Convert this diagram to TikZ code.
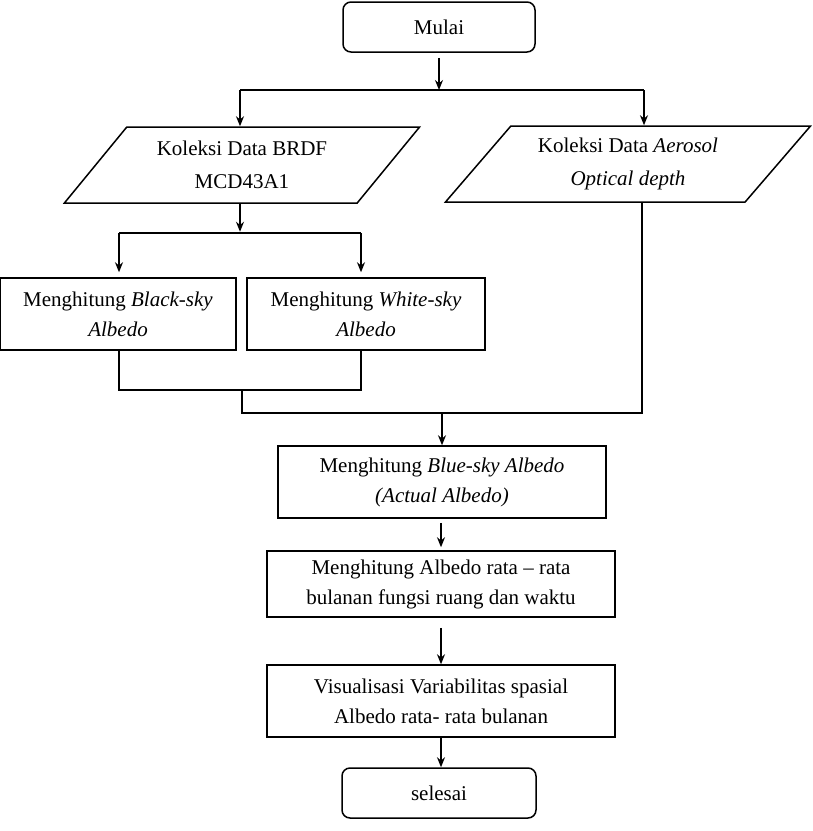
\documentclass[tikz,border=0pt]{standalone}
\usepackage{fontspec}
\setmainfont{Liberation Serif}
\usetikzlibrary{arrows.meta,shapes.geometric}

\begin{document}
\begin{tikzpicture}[x=1pt,y=-1pt,line width=1.5pt,
  font=\fontsize{21}{30}\selectfont,
  terminal/.style={draw,rounded corners=8pt,align=center,inner sep=0pt},
  proses/.style={draw,align=center,inner sep=0pt},
  datain/.style={draw,trapezium,trapezium left angle=46,trapezium right angle=134,
    trapezium stretches=true,align=center,inner sep=0pt,font=\fontsize{21}{33}\selectfont},
  arr/.style={-{Stealth[length=10pt,width=8pt]}}]
  \useasboundingbox (0,0) rectangle (813,831);

  \node [terminal, minimum width=192pt, minimum height=50pt] (mulai) at (439,27) {Mulai};
  \node [datain, minimum width=356pt, minimum height=76pt] (brdf) at (242,165) {Koleksi Data BRDF\\MCD43A1};
  \node [datain, minimum width=366pt, minimum height=76pt] (aod) at (628,164) {Koleksi Data \textit{Aerosol}\\\textit{Optical depth}};
  \node [proses, minimum width=236pt, minimum height=72pt] (black) at (118,314) {Menghitung \textit{Black-sky}\\\textit{Albedo}};
  \node [proses, minimum width=238pt, minimum height=72pt] (white) at (366,314) {Menghitung \textit{White-sky}\\\textit{Albedo}};
  \node [proses, minimum width=328pt, minimum height=72pt] (blue) at (442,482) {Menghitung \textit{Blue-sky Albedo}\\\textit{(Actual Albedo)}};
  \node [proses, minimum width=348pt, minimum height=66pt] (rata) at (441,584) {Menghitung Albedo rata -- rata\\bulanan fungsi ruang dan waktu};
  \node [proses, minimum width=348pt, minimum height=72pt] (visual) at (441,701) {Visualisasi Variabilitas spasial\\Albedo rata- rata bulanan};
  \node [terminal, minimum width=194pt, minimum height=50pt] (selesai) at (439,793) {selesai};

  \coordinate (j1) at (240,90);
  \coordinate (j2) at (644,90);
  \coordinate (j3) at (119,233);
  \coordinate (j4) at (361,233);
  \coordinate (j5) at (242,390);
  \coordinate (j6) at (642,413);

  \draw [arr, shorten <=5pt] (mulai.south) -- (mulai.south |- j1);
  \draw (j1) -- (j2);
  \draw [arr] (j1) -- (j1 |- brdf.north);
  \draw [arr] (j2) -- (j2 |- aod.north);

  \draw [arr] (brdf.south -| j1) -- ++(0,28);
  \draw (j3) -- (j4);
  \draw [arr, shorten >=5pt] (j3) -- (j3 |- black.north);
  \draw [arr, shorten >=5pt] (j4) -- (j4 |- white.north);

  \draw (black.south -| j3) |- (j5) -| (white.south -| j4);
  \draw (j5) |- (j6) -- (j6 |- aod.south);
  \draw [arr] (blue.north |- j6) -- (blue.north);

  \draw [arr, shorten <=4pt, shorten >=3pt] (blue.south -| rata) -- (rata.north);
  \draw [arr, shorten <=10pt] (rata.south) -- (visual.north);
  \draw [arr] (visual.south) -- (visual.south |- selesai.north);
\end{tikzpicture}
\end{document}
